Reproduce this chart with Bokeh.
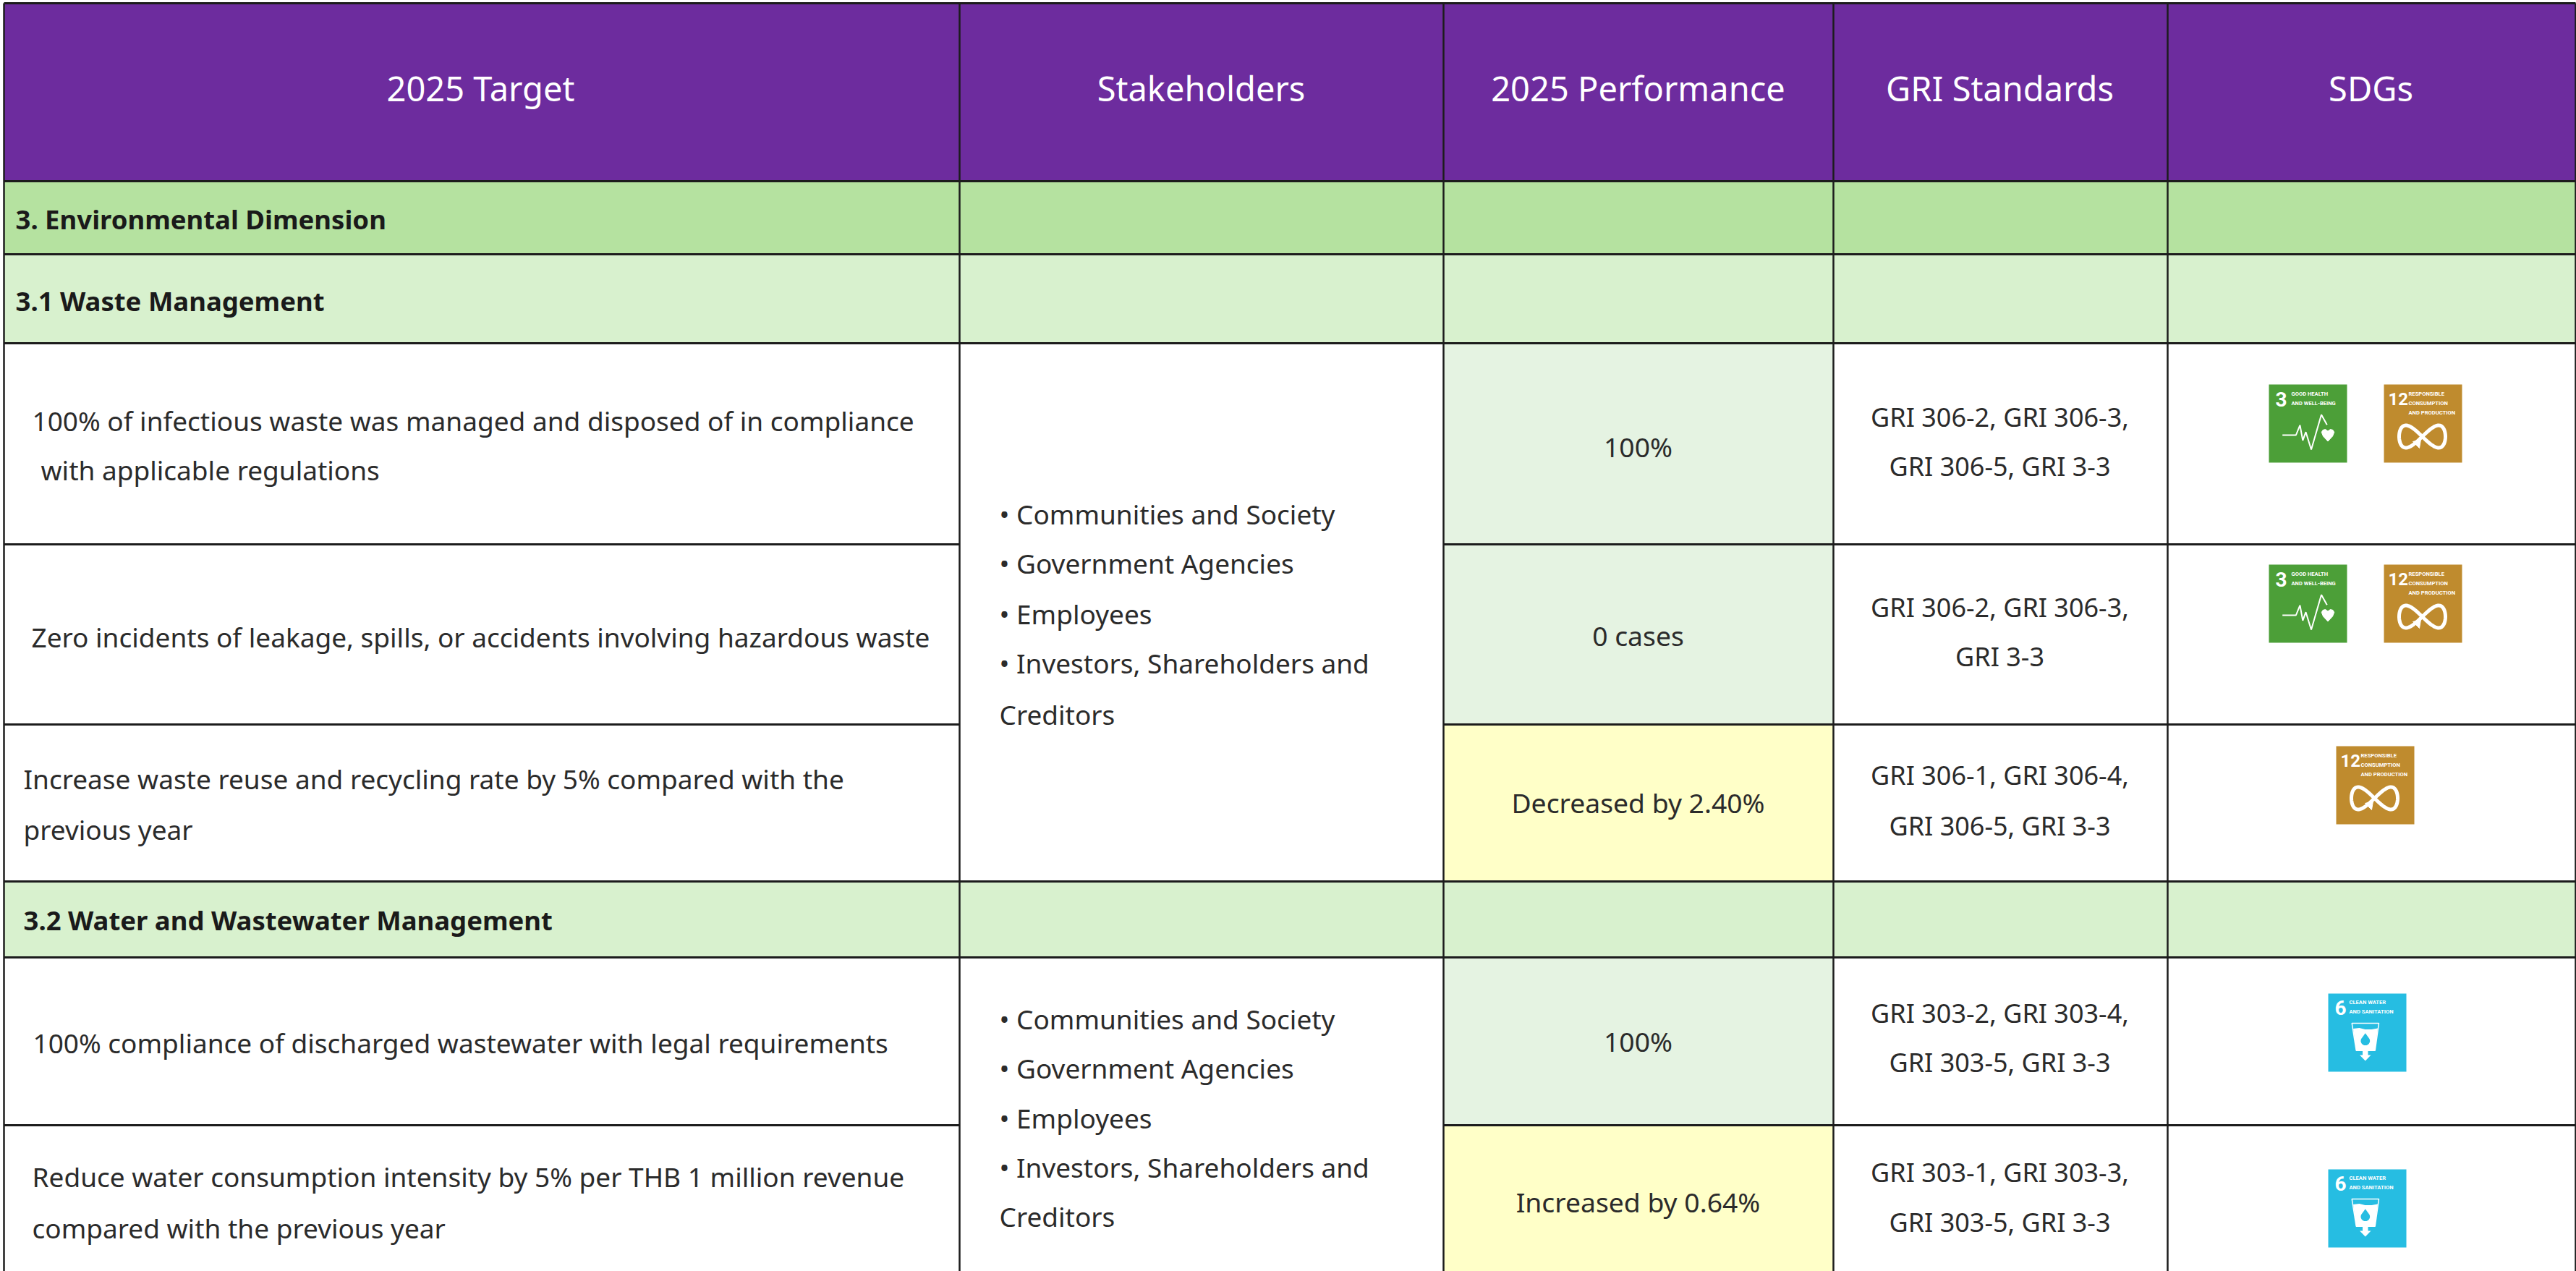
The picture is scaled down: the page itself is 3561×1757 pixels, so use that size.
import numpy as np
from bokeh.plotting import figure
from bokeh.models import ColumnDataSource, Range1d
from bokeh.core.properties import value
from bokeh.embed import file_html
from bokeh.resources import INLINE

# ---- table content ----
headers = ["2025 Target", "Stakeholders", "2025 Performance", "GRI Standards", "SDGs"]
sections = ["3. Environmental Dimension", "3.1 Waste Management", "3.2 Water and Wastewater Management"]
target_lines = [
    "100% of infectious waste was managed and disposed of in compliance",
    "with applicable regulations",
    "Zero incidents of leakage, spills, or accidents involving hazardous waste",
    "Increase waste reuse and recycling rate by 5% compared with the",
    "previous year",
    "100% compliance of discharged wastewater with legal requirements",
    "Reduce water consumption intensity by 5% per THB 1 million revenue",
    "compared with the previous year",
]
stakeholders = ["\u2022 Communities and Society", "\u2022 Government Agencies", "\u2022 Employees",
                "\u2022 Investors, Shareholders and", "Creditors"]
performance = ["100%", "0 cases", "Decreased by 2.40%", "100%", "Increased by 0.64%"]
gri_lines = [
    "GRI 306-2, GRI 306-3,", "GRI 306-5, GRI 3-3",
    "GRI 306-2, GRI 306-3,", "GRI 3-3",
    "GRI 306-1, GRI 306-4,", "GRI 306-5, GRI 3-3",
    "GRI 303-2, GRI 303-4,", "GRI 303-5, GRI 3-3",
    "GRI 303-1, GRI 303-3,", "GRI 303-5, GRI 3-3",
]

# ---- layout (page pixels) ----
W, H = 3561, 1757
col_x = [5, 1326, 1995, 2534, 2996, 3560]
row_y = [4, 250, 351, 474, 752, 1001, 1218, 1323, 1555, H]
FONT = "Noto Sans"
INK = "#2b2b2b"

p = figure(width=W, height=H, output_backend="svg", toolbar_location=None,
           x_range=Range1d(0, W), y_range=Range1d(H, 0), min_border=0,
           outline_line_color=None, background_fill_color="white", border_fill_color="white")
p.axis.visible = False
p.grid.visible = False


def fill(x0, x1, y0, y1, color):
    p.quad(left=x0, right=x1, top=y0, bottom=y1, fill_color=color, line_color=None)


def put(xs, ys, texts, size, color=INK, align="left", style="normal", font=FONT):
    src = ColumnDataSource(dict(x=xs, y=ys, t=texts))
    p.text("x", "y", text="t", source=src, text_font=value(font), text_font_size=size,
           text_color=color, text_align=align, text_baseline="middle", text_font_style=style)


# ---- fills ----
fill(col_x[0], col_x[5], row_y[0], row_y[1], "#6D2C9E")
fill(col_x[0], col_x[5], row_y[1], row_y[2], "#B5E2A0")
fill(col_x[0], col_x[5], row_y[2], row_y[3], "#D8F1CE")
fill(col_x[0], col_x[5], row_y[6], row_y[7], "#D8F1CE")
perf_colors = ["#E5F3E2", "#E5F3E2", "#FFFFC8", "#E5F3E2", "#FFFFC8"]
perf_rows = [(3, 4), (4, 5), (5, 6), (7, 8), (8, 9)]
for (a, b), c in zip(perf_rows, perf_colors):
    fill(col_x[2], col_x[3], row_y[a], row_y[b], c)

# ---- rules ----
LINE = "#1c1c1c"
full_rows = [row_y[i] for i in (0, 1, 2, 3, 6, 7)]
p.segment(x0=[col_x[0]] * 6, x1=[col_x[5]] * 6, y0=full_rows, y1=full_rows, line_color=LINE, line_width=3)
part_rows = [row_y[i] for i in (4, 5, 8)]
p.segment(x0=[col_x[0]] * 3, x1=[col_x[1]] * 3, y0=part_rows, y1=part_rows, line_color=LINE, line_width=3)
p.segment(x0=[col_x[2]] * 3, x1=[col_x[5]] * 3, y0=part_rows, y1=part_rows, line_color=LINE, line_width=3)
p.segment(x0=col_x, x1=col_x, y0=[row_y[0]] * 6, y1=[row_y[9]] * 6, line_color=LINE, line_width=2.5)

# ---- text ----
put([664, 1660, 2264, 2764, 3277], [121] * 5, headers, "47px", "white", "center")
put([21, 21, 32], [302, 415, 1271], sections, "36.5px", "#1a1a1a", style="bold")
put([44, 56, 43, 32, 32, 45, 44, 44], [581, 649, 880, 1076, 1146, 1441, 1626, 1697], target_lines, "37px")
put([1381] * 5, [710, 778, 848, 916, 987], stakeholders, "37px")
put([1381] * 5, [1408, 1476, 1545, 1613, 1681], stakeholders, "37px")
put([2264] * 5, [617, 878, 1109, 1439, 1661], performance, "37.3px", align="center")
put([2764] * 10, [576, 644, 839, 907, 1071, 1141, 1400, 1468, 1620, 1689], gri_lines, "36px", align="center")

ICON_FONT = "Roboto"


def loc(ox, oy, pts):
    a = np.array(pts, dtype=float)
    return (a[:, 0] + ox).tolist(), (a[:, 1] + oy).tolist()


def icon_base(ox, oy, color, num, numx, numy, numsize, lines, lx, ly):
    p.quad(left=ox, right=ox + 108, top=oy, bottom=oy + 108, fill_color=color, line_color=None)
    put([ox + numx], [oy + numy], [num], numsize, "white", style="bold", font=ICON_FONT)
    put([ox + lx] * len(lines), [oy + ly + 13 * i for i in range(len(lines))], lines, "7.6px", "white",
        style="bold", font=ICON_FONT)


def icon_health(ox, oy):
    icon_base(ox, oy, "#4C9F38", "3", 9, 20, "28px", ["GOOD HEALTH", "AND WELL-BEING"], 31, 13)
    x, y = loc(ox, oy, [(18.7, 70), (37.4, 70), (42.9, 56.3), (46.8, 77.3), (51, 65.7), (58.5, 90), (72.5, 41.7), (80.3, 55.7)])
    p.line(x, y, line_color="white", line_width=2)
    x, y = loc(ox, oy, [(81.5, 78.5), (75, 71.5), (72.8, 66), (74.5, 63), (78, 62), (81.5, 64.5), (85, 62), (88.5, 63), (90.2, 66), (88, 71.5)])
    p.patch(x, y, fill_color="white", line_color="white")


def icon_consumption(ox, oy):
    icon_base(ox, oy, "#BF8B2E", "12", 6, 20, "24px", ["RESPONSIBLE", "CONSUMPTION", "AND PRODUCTION"], 34, 13)
    t = np.linspace(0, 2 * np.pi, 90)
    p.line((ox + 53 + 32 * np.cos(t)).tolist(), (oy + 72 + 15.5 * np.sin(2 * t)).tolist(),
           line_color="white", line_width=5)
    x, y = loc(ox, oy, [(40, 79), (51, 76), (49, 88)])
    p.patch(x, y, fill_color="white", line_color="white")


def icon_water(ox, oy):
    icon_base(ox, oy, "#26BDE2", "6", 9, 19, "28px", ["CLEAN WATER", "AND SANITATION"], 29, 12)
    x, y = loc(ox, oy, [(32.7, 41), (70, 41), (64.7, 78.7), (38.7, 78.7)])
    p.patch(x, y, fill_color=None, line_color="white", line_width=1.5)
    x, y = loc(ox, oy, [(34.5, 48.5), (43, 47.5), (51, 49.5), (60, 49.5), (68.5, 48), (64.7, 79), (38.7, 79)])
    p.patch(x, y, fill_color="white", line_color=None)
    x, y = loc(ox, oy, [(47.5, 79), (55, 79), (55, 85), (59, 85), (51.3, 93), (43.5, 85), (47.5, 85)])
    p.patch(x, y, fill_color="white", line_color=None)
    t = np.linspace(-0.15 * np.pi, 1.15 * np.pi, 24)
    dx = (51.3 + 6.3 * np.cos(t)).tolist() + [51.3]
    dy = (65.3 + 6.3 * np.sin(t)).tolist() + [54.7]
    p.patch([ox + v for v in dx], [oy + v for v in dy], fill_color="#26BDE2", line_color=None)


icon_health(3136, 531)
icon_consumption(3295, 531)
icon_health(3136, 780)
icon_consumption(3295, 780)
icon_consumption(3229, 1031)
icon_water(3218, 1373)
icon_water(3218, 1616)

open("out.html", "w").write(file_html(p, INLINE))
